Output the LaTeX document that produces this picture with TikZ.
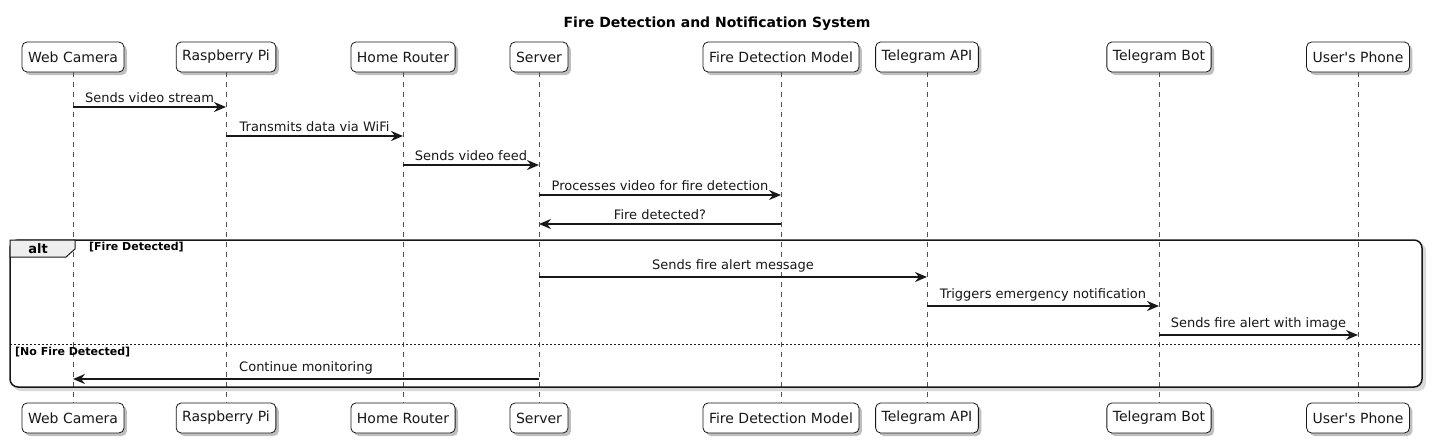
\documentclass[tikz,border=0pt]{standalone}
\usepackage{fontspec}
\setmainfont{DejaVu Sans}
\usetikzlibrary{shadows,arrows.meta}
\definecolor{ink}{HTML}{181818}
\definecolor{tabfill}{HTML}{EEEEEE}
\tikzset{
  part/.style={draw=ink, fill=white, rounded corners=5pt, minimum height=30pt, inner xsep=6pt, line width=0.8pt,
    font=\fontsize{14}{16}\selectfont, text=ink,
    drop shadow={shadow xshift=3pt, shadow yshift=-3pt, fill=black, opacity=0.25}},
  life/.style={draw=ink!75, line width=0.5pt, dash pattern=on 5pt off 5pt},
  msg/.style={draw=ink, line width=2.8pt, -{Stealth[length=12pt,width=10pt,inset=4pt]}},
  lbl/.style={font=\fontsize{13}{15}\selectfont, text=ink, inner sep=0pt, anchor=base},
  cond/.style={font=\bfseries\fontsize{11}{13}\selectfont, text=black, inner sep=0pt, anchor=base west},
}
\newcommand{\seqmsg}[4]{%
  \draw[msg] (#1 |- 0,#3) -- (#2 |- 0,#3) node[lbl, midway, above=3pt] {#4};}
\begin{document}
\begin{tikzpicture}[x=1pt,y=-1pt]
\useasboundingbox (0,0) rectangle (1434,445);
\node[font=\bfseries\fontsize{14}{16}\selectfont, anchor=base] (title) at (717,27) {Fire Detection and Notification System};

% frame shadow and background
\fill[black, opacity=0.15, rounded corners=8pt] (13,243) rectangle (1426,391);
\fill[white, rounded corners=8pt] (10,240) rectangle (1422,387);

% participants
\foreach \n/\x/\t in {wc/73/Web Camera, rp/226/Raspberry Pi, hr/403/Home Router, sv/539/Server, fd/781/Fire Detection Model, ta/927/Telegram API, tb/1159/Telegram Bot, up/1358/User\textquotesingle s Phone}{
  \node[part] (\n top) at (\x,57) {\t};
  \node[part] (\n bot) at (\x,418) {\t};
  \draw[life] (\n top.south) -- (\n bot.north);
  \coordinate (\n) at (\x,0);
}

% alt frame
\draw[ink, line width=1.5pt, rounded corners=8pt] (10,240) rectangle (1422,387);
\filldraw[fill=tabfill, draw=ink, line width=1pt] (10,240) -- (75,240) -- (75,249) -- (66,257) -- (10,257) -- cycle;
\node[font=\bfseries\fontsize{13}{15}\selectfont, anchor=base] (alt) at (38,253) {alt};
\node[cond] (c1) at (89,250) {[Fire Detected]};
\draw[ink, line width=0.8pt, dash pattern=on 2pt off 2pt] (10,344) -- (1422,344);
\node[cond] (c2) at (15,355) {[No Fire Detected]};

% messages
\seqmsg{wc}{rp}{107}{Sends video stream}
\seqmsg{rp}{hr}{136}{Transmits data via WiFi}
\seqmsg{hr}{sv}{165}{Sends video feed}
\seqmsg{sv}{fd}{195}{Processes video for fire detection}
\seqmsg{fd}{sv}{224}{Fire detected?}
\seqmsg{sv}{ta}{277}{Sends fire alert message}
\seqmsg{ta}{tb}{306}{Triggers emergency notification}
\seqmsg{tb}{up}{335}{Sends fire alert with image}
\seqmsg{sv}{wc}{379}{Continue monitoring}
\end{tikzpicture}
\end{document}
